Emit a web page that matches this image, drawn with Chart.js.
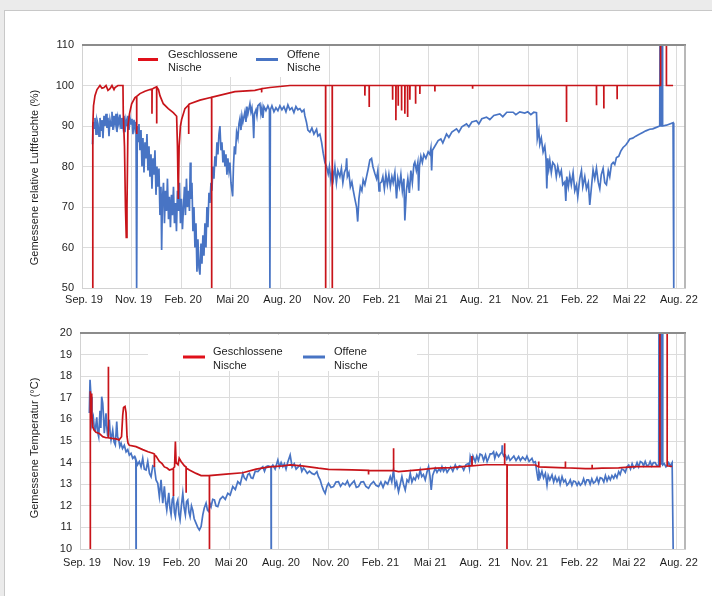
<!DOCTYPE html>
<html><head><meta charset="utf-8">
<script src="https://cdn.jsdelivr.net/npm/chart.js@4.4.1/dist/chart.umd.min.js"></script>
<style>
html,body{margin:0;padding:0;width:712px;height:596px;background:#ebebeb;overflow:hidden;}
#card{position:absolute;left:4px;top:10px;width:708px;height:586px;background:#fff;border-top:1px solid #c8c8c8;border-left:1px solid #c8c8c8;box-sizing:border-box;}
#c1{position:absolute;left:5px;top:10px;width:707px;height:300px;}
#c2{position:absolute;left:5px;top:310px;width:707px;height:286px;}
</style></head><body>
<div id="card"></div>
<canvas id="c1" width="707" height="300"></canvas>
<canvas id="c2" width="707" height="286"></canvas>
<script>
// x values: days since 1 Sep 2019; one axis tick every 91.25 days
const tickLabels = ['Sep. 19','Nov. 19','Feb. 20','Mai 20','Aug. 20','Nov. 20','Feb. 21','Mai 21','Aug.  21','Nov. 21','Feb. 22','Mai 22','Aug. 22'];
const daysPerTick = 91.25;
const seriesNames = ['Geschlossene Nische','Offene Nische'];

// Relative humidity (%), closed niche
const rhGeschlossen = [[19.5,50],[19.9,90],[21.2,95],[23.9,97.5],[27.6,99],[33.1,100],[36.8,99.3],[40.5,99.5],[44.2,100],[47.8,98.8],[51.5,99.2],[55.2,100],[58.9,99],[60.7,99.5],[66.2,100],[75.4,100],[76,93],[78.2,85],[80,70],[81.5,62.5],[82.8,70],[84.6,90],[87.4,93],[91.4,95.5],[97.5,97],[100.6,97.3],[100.6,88],[100.9,97.3],[106.7,98],[115.9,98.6],[125.1,99],[128.8,99.1],[128.8,93],[129.1,99.1],[132.5,99.4],[137.4,99.7],[137.4,90.6],[137.7,99.6],[140.8,99],[143.5,97.5],[149.6,95.5],[158.8,94.3],[168,93.3],[174.2,92.4],[175.7,85],[177.2,72],[178.8,85],[181.2,90],[183.4,91.6],[189.5,94.3],[196.3,95.2],[196.3,88],[196.6,95.3],[198.7,95.5],[217.1,96.4],[238.6,97.1],[238.6,50],[238.9,97.1],[241.6,97.2],[281.5,98.5],[318.3,98.8],[330.6,99.2],[330.6,98.3],[330.9,99.2],[345.9,99.5],[382.7,100],[448.4,100],[448.4,50],[448.7,100],[460.6,100],[460.6,50],[460.9,100],[520.7,100],[520.7,97.5],[521,100],[528.6,100],[528.6,94.7],[528.9,100],[571.7,100],[571.7,96.5],[572,100],[577.8,100],[577.8,91.4],[578.1,100],[582,100],[582,95],[582.3,100],[588.2,100],[588.2,93.8],[588.5,100],[594.3,100],[594.3,93],[594.6,100],[599.3,100],[599.3,92.2],[599.6,100],[603.5,100],[603.5,96.5],[603.8,100],[614,100],[614,95.5],[614.3,100],[621.9,100],[621.9,97.9],[622.2,100],[649.5,100],[649.5,98.5],[649.8,100],[718.9,100],[718.9,99.2],[719.2,100],[891.8,100],[891.8,91],[892.1,100],[947,100],[947,95.1],[947.3,100],[960.5,100],[960.5,94.3],[960.8,100],[985,100],[985,96.6],[985.3,100],[1065,100],[1065,130],[1075.8,130],[1075.8,100],[1088,100]];

// Relative humidity (%), open niche
const rhOffen = [[19.3,85.5],[20.6,91],[22.1,89.5],[23.9,92],[25.8,88],[27.6,91.5],[29.4,90.5],[31.3,87.5],[33.1,92],[35,89],[36.8,91.5],[38.6,87],[40.5,92.5],[42.3,90],[44.2,93],[46,89.5],[47.8,92],[49.7,87.5],[51.5,91.5],[53.4,90],[55.2,93.5],[57,89],[58.9,92.5],[60.7,90.5],[62.6,93],[64.4,88.5],[66.2,92],[68.1,90.5],[69.9,92.8],[71.8,89.5],[73.6,92],[75.4,90],[77.3,92.5],[79.1,88.5],[81,91.5],[82.8,90],[84.6,92.5],[86.5,89],[88.3,92],[90.2,90.5],[92,91.8],[93.8,88],[95.7,91.5],[97.5,89.5],[99.4,91],[100.6,50],[101.8,90],[103,86],[104.9,90.5],[106.7,84],[108.6,89],[110.4,80],[112.2,87],[114.1,78.5],[115.9,86],[117.8,82],[119.6,88],[121.4,79],[123.3,85],[125.1,77.5],[127,83],[128.8,74.5],[130.6,82],[132.5,78],[134.3,84],[136.2,73],[138,80],[139.8,75],[141.7,79.5],[143.5,68],[145.4,75],[146.6,59.4],[148.1,72],[150,76],[151.8,66],[153.6,74],[155.5,69],[157.3,77],[159.2,67],[161,72.5],[162.8,65],[164.7,73],[166.5,68],[168.4,75],[170.2,66],[172,71],[173.9,64],[175.7,74],[177.6,69],[179.4,76],[181.2,66],[183.1,72],[184.9,64.5],[186.8,70],[188.6,75],[190.4,68],[192.3,77],[194.1,70],[196,74],[197.8,69],[199.3,81],[200.6,72],[202.4,76],[204.2,64],[206.1,70],[207.9,60],[209.8,66],[211.6,54],[213.4,62],[215.3,55],[217.1,53.3],[219,61],[220.8,56],[222.6,63],[224.5,58],[226.3,66],[228.2,60],[230,70],[231.8,65],[233.7,73.5],[235.5,71],[237.4,76],[239.2,74],[241,80],[242.9,77],[244.7,82.5],[246.6,80],[248.4,86],[250.2,83],[252.1,88],[253.9,90],[255.8,84],[257.6,86],[259.4,81],[261.3,84],[263.1,80],[265,83],[266.8,78],[268.6,82],[270.5,79],[272.3,81],[274.2,76],[277.3,72.6],[278.8,80],[280.6,85],[282.4,83],[284.6,88.5],[287,87],[288.9,90.5],[290.7,91.8],[292.6,89],[294.4,92.5],[296.2,91],[299.9,93.5],[301.8,91],[303.6,94.8],[305.4,93],[309.1,95.5],[311,93.5],[312.8,94.5],[314.6,92],[316.1,87],[317.4,93],[320.2,94],[322,92.5],[323.8,95],[327.5,95.5],[329.4,93],[331.2,94.5],[333,92],[334.9,94.8],[338.6,93.8],[342.2,95],[345,94],[345.9,50],[346.8,94],[349.6,95],[353.3,93.5],[357,94.5],[360.6,93.8],[364.3,95],[368,94],[371.7,94.8],[375.4,93.5],[379,95.2],[382.7,94],[386.4,94.5],[390.1,93.3],[393.8,94.8],[397.4,94],[401.1,94.3],[404.8,93.5],[408.5,94],[410.3,92.5],[413.1,91],[415.8,89],[419.5,88.5],[423.2,89.5],[426.9,88],[431.8,89.2],[434.2,87.5],[437.9,88],[441,86],[444,83.3],[447.1,81],[450.2,80],[453.2,78.2],[455.4,80],[458.2,76.5],[460.9,79],[462.8,77],[465.5,80],[468.3,76],[471,79],[474.7,77.5],[477.5,79.5],[480.2,76],[483,78.5],[485.8,79.5],[487.2,82],[488.5,77.5],[491.3,78.5],[494,75],[496.8,76.2],[499.2,74.2],[502.3,72],[505.4,70],[507.5,66.4],[509.7,72],[512.4,75],[515.2,74],[517.6,76.7],[520.7,75.5],[523.8,77.5],[526.2,79],[529.9,81.6],[533,82],[535.4,80],[539.1,78.3],[542.2,77],[544.6,79],[546.8,74],[548.3,75.8],[551.4,76.2],[553.8,77.5],[556.6,74.5],[559.4,78],[562.1,75.5],[564.9,78],[567.6,75],[570.4,77.5],[572.8,76],[575.9,78.5],[579,72.1],[581.4,77],[584.2,75],[587,78],[589.7,74],[592.5,77],[594.3,66.7],[597.1,74],[599.8,77],[602.6,73.5],[605.4,79],[608.1,76],[610.9,80.5],[612.7,81.1],[615.5,79],[618.2,81],[619.7,74],[621.2,80],[623.8,82.5],[626.5,81],[629.3,83],[633,82],[637.2,83.6],[640.3,83],[642.2,84.5],[643.6,79],[645.1,84],[649.5,85],[655.6,86.4],[660.6,86.8],[664.2,85.8],[671,88],[675.3,87.2],[680.8,88.5],[689.4,89.3],[693.7,88.5],[699.2,89.8],[707.8,90.5],[712.1,89.8],[717.6,91],[726.2,91.3],[730.5,90.5],[736,91.8],[744.6,92.2],[750.7,91.6],[758.1,92.6],[769.1,93],[774.6,92.3],[782,93.4],[793.6,93.4],[798.6,92.8],[805.9,93.5],[815.1,93.2],[820.6,93.5],[826.2,92.8],[831.7,93.4],[836.6,93.3],[838.1,86.9],[840.9,89],[842.7,85.5],[845.5,87],[848.8,83.6],[851.9,85],[854.1,82],[855.6,74.6],[857.4,82],[859.3,79.5],[861.1,81.5],[863.9,78.5],[866.6,81],[870.3,80.3],[873.1,77.5],[875.8,80],[879.5,77.8],[882.3,79],[885,75.5],[888.7,76.2],[890.6,71.5],[892.4,77.5],[895.2,75],[897.9,77.8],[900.7,75.5],[904,78.5],[907.1,74],[910.2,75.4],[912.6,72.5],[916.3,77],[919.4,79],[921.8,75],[925.5,77.5],[928.6,74.5],[932,76],[934.7,70.5],[937.5,74.5],[940.8,79.2],[943.9,77],[947,79.6],[950.4,76],[953.1,74.5],[955.9,78],[959.2,79.5],[962.3,76],[965.4,75.5],[968.8,79],[971.5,77.5],[974.6,80.5],[977.9,81],[980.7,80.5],[983.8,82.2],[988,82.5],[991.8,83.8],[996,84.7],[1001,85.3],[1004.6,86],[1008.3,86.8],[1013.8,87],[1019.4,87.5],[1026.7,88],[1032.2,88.4],[1037.8,88.8],[1045.1,89.2],[1050.6,89.3],[1056.2,89.6],[1063.5,90],[1064.2,130],[1065,90],[1065.7,130],[1066.5,90],[1067.2,130],[1068,90],[1068.6,130],[1069,90],[1075.8,90.2],[1081.9,90.5],[1088,90.8],[1089.3,50]];

// Temperature (°C), closed niche
const tempGeschlossen = [[18.4,10],[18.4,17.3],[19.5,16.8],[20.2,17.2],[21.5,16.3],[23.3,15.65],[26,15.5],[29.4,15.4],[35.4,15.35],[41.7,15.2],[47.7,15.15],[52,15.15],[52,18.44],[52.3,15.15],[58.8,15.12],[66.1,15.1],[71.6,15.05],[76.2,15.2],[78.4,16.2],[79.9,16.55],[82.6,16.6],[84.5,16.3],[86.3,15.2],[88.1,14.9],[90.5,14.8],[102.8,14.74],[115.1,14.6],[124.8,14.5],[133.5,14.43],[136.4,14.4],[136.4,13.8],[136.7,14.35],[139.5,14.3],[145.6,14.05],[150.6,13.95],[154.8,13.8],[159.7,13.75],[164,13.66],[168.9,13.7],[171.3,13.7],[171.3,12.45],[171.6,13.75],[173.5,13.8],[175,14.97],[176.3,14.0],[179.9,13.9],[182,14.2],[185.4,14.05],[191.5,13.85],[194.6,13.8],[194.6,12.6],[194.9,13.75],[200.7,13.66],[213,13.5],[222.2,13.4],[237.4,13.4],[237.4,10],[237.7,13.4],[268.1,13.47],[298.7,13.53],[323.1,13.7],[347.6,13.8],[372.2,13.85],[385.6,13.89],[407,13.85],[437.5,13.74],[455.9,13.69],[498.8,13.66],[529.3,13.64],[529.3,13.45],[529.6,13.64],[572.3,13.63],[575.2,13.63],[575.2,14.66],[575.5,13.63],[584.4,13.58],[621.1,13.66],[651.8,13.74],[682.4,13.77],[716,13.85],[719.1,13.85],[719.1,14.3],[719.4,13.85],[743.6,13.9],[779,13.9],[779,14.9],[779.3,13.9],[783.4,13.9],[783.4,10],[783.7,13.9],[804.7,13.89],[835.4,13.89],[838,13.85],[841.5,13.8],[841.5,14.05],[841.8,13.8],[866,13.78],[890.5,13.76],[890.5,14.05],[890.8,13.76],[927.2,13.72],[939.5,13.72],[939.5,13.9],[939.8,13.72],[957.8,13.74],[988.3,13.76],[1019,13.81],[1061.8,13.81],[1064,13.81],[1064,25],[1077.3,25],[1077.3,13.85],[1086.4,13.82]];

// Temperature (°C), open niche
const tempOffen = [[17.1,16.3],[18.4,17.83],[20.2,17.05],[22,15.82],[24.4,16.1],[26.2,15.6],[28.1,15.5],[30.7,16.1],[32.5,15.4],[34.3,15.2],[36.7,16.4],[38.2,15.6],[39.8,17.05],[41.7,16.75],[43,16.2],[44.6,15.36],[47.7,16.28],[49.3,15.6],[50.9,15.2],[53.8,15.98],[55.5,15.3],[56.9,15.05],[60,15.5],[62.5,14.95],[64.8,14.82],[67.4,15.9],[69,15.2],[71.1,15.05],[73,14.75],[75.3,14.9],[78,14.65],[81.3,14.8],[84.5,14.5],[87.6,14.6],[90.5,14.35],[93.6,14.43],[96.7,14.2],[99.7,14.28],[102.5,14.1],[102.8,10],[103.1,14.1],[105.5,13.9],[108.9,14.05],[112,13.8],[115.1,14.2],[118,13.7],[121.2,13.66],[124.3,14.05],[127.5,13.5],[130.4,13.35],[133.5,13.85],[136.4,13.8],[139.5,13.2],[142.7,13.04],[145.6,12.43],[148.7,13.2],[151.8,12.12],[154.8,12.9],[157,12.2],[159.2,11.8],[162.9,12.6],[165,11.9],[167.1,11.6],[169.3,12.3],[171.3,12.43],[173.2,11.7],[175,11.5],[177.2,12.1],[179.4,12.27],[181.5,11.6],[183.6,11.35],[186,12.0],[188.6,12.58],[191,11.9],[193.3,11.58],[195.5,12.2],[197.7,12.27],[200,11.7],[202,11.5],[204.5,12.0],[206.9,11.8],[209.5,11.4],[213,11.19],[216,11.0],[219,10.88],[222.2,11.04],[225.3,11.58],[228,11.9],[231.3,12.12],[233.8,11.8],[236.3,11.73],[238.5,12.1],[240.5,11.96],[243.5,12.3],[246.6,12.27],[249.5,12.0],[252.8,11.96],[257,12.3],[262,12.43],[266.5,12.3],[271.2,12.58],[275.5,12.5],[280.3,12.89],[285,12.75],[289.5,13.12],[294,13.0],[298.7,13.5],[301.5,13.3],[304.8,13.2],[308,13.45],[310.8,13.5],[314,13.3],[317.1,13.27],[321.5,13.6],[326.3,13.58],[330.5,13.7],[335.4,13.81],[338.5,13.6],[341.5,13.81],[345,13.85],[350.4,13.8],[350.7,10],[351,13.8],[353.8,13.89],[358,13.7],[363,14.12],[366,13.8],[369,14.0],[372.2,13.81],[375,13.95],[378,13.7],[381,14.0],[385.6,14.35],[389.2,13.8],[393,13.95],[396.5,13.7],[400.8,13.81],[404,13.9],[407,13.6],[410,13.75],[413.1,13.66],[417,13.5],[421,13.6],[425.4,13.5],[430,13.45],[434.6,13.58],[437.5,13.35],[440.6,13.2],[443.5,12.95],[446.7,12.73],[449.8,12.58],[453,12.9],[455.9,13.04],[460.5,12.85],[465.1,12.89],[469.5,13.1],[474.2,13.12],[478,12.9],[482,13.05],[486.5,12.97],[490.5,13.15],[494.5,12.9],[498.8,13.04],[503,13.15],[507,12.85],[511,12.89],[515.5,13.1],[520.1,13.12],[524.5,12.9],[529.3,12.81],[533.5,13.0],[538.5,13.12],[543,12.95],[547.7,12.89],[552,13.1],[556,12.85],[560,13.12],[564.5,13.0],[569.2,13.35],[572,13.1],[575.2,13.66],[578.3,12.89],[581,13.1],[584.4,12.65],[587.5,13.0],[590.6,13.35],[593.5,13.0],[596.7,12.73],[600,13.2],[603,13.1],[605.9,13.5],[609,13.1],[612,13.3],[615.1,13.2],[618,13.45],[621,13.3],[624.2,13.66],[627,13.35],[630,13.45],[633.4,13.2],[636.5,13.55],[639.5,13.81],[642,13.4],[644.4,12.73],[647,13.4],[651.8,13.74],[655,13.55],[658.5,13.7],[661.5,13.6],[664.1,13.81],[667,13.6],[670.5,13.75],[673.5,13.55],[676.2,13.66],[680,13.8],[684,13.6],[688.5,13.89],[692,13.7],[696,13.85],[700.8,13.81],[704,13.65],[708,13.9],[712.9,13.97],[714.5,13.75],[716,14.27],[719,14.0],[721,14.3],[725.2,14.04],[728,14.3],[731,14.1],[734,14.4],[737.5,14.35],[740.5,14.1],[744,14.35],[747,14.05],[749.6,14.2],[752.5,14.4],[755.9,14.4],[758.8,14.5],[761,14.2],[764,14.45],[768,14.28],[771,14.4],[774.2,14.5],[774.6,14.8],[775,14.45],[777.5,14.3],[780.3,14.35],[783,14.15],[786,14.3],[789,14.1],[792.5,14.2],[796,14.3],[800,14.1],[804.7,14.28],[808,14.1],[812,14.25],[817,14.12],[820,14.3],[824,14.05],[829.2,14.2],[832,14.0],[835.4,14.04],[838.5,13.5],[840.5,13.2],[842,13.6],[844.6,13.35],[847.5,13.6],[850.5,13.3],[853.8,13.5],[856.8,12.96],[859,13.4],[862,13.2],[866,13.43],[869,13.1],[872,13.35],[875.2,13.12],[878.5,13.3],[881,13.0],[884.4,13.35],[887.5,13.1],[890.5,13.2],[893.5,12.95],[896.6,13.04],[899.5,13.2],[902.5,12.95],[905.5,13.15],[908.8,13.12],[912,12.95],[915,13.1],[918,12.95],[921.1,13.04],[924,13.25],[927,13.0],[930,13.2],[933.2,13.2],[936,13.0],[939,13.25],[942,13.05],[945.5,13.12],[948.5,13.3],[951.5,13.05],[954.5,13.3],[957.8,13.27],[961,13.1],[964,13.4],[967,13.15],[970,13.35],[973,13.2],[976,13.4],[979.2,13.27],[982,13.45],[985,13.3],[988.3,13.58],[991,13.45],[994,13.7],[997.5,13.66],[1000.5,13.55],[1003.5,13.8],[1006.7,13.89],[1010,13.7],[1013,13.95],[1016,13.75],[1019,13.81],[1022,14.0],[1025,13.8],[1028,14.05],[1031.3,14.0],[1034,13.85],[1037,14.05],[1040,13.85],[1043.4,13.89],[1046,14.05],[1049,13.85],[1052,14.0],[1055.3,14.0],[1058.5,13.85],[1061.8,13.89],[1062.5,25],[1063.5,13.9],[1064.5,25],[1065.5,13.9],[1066.5,25],[1067.5,13.9],[1068.5,25],[1069.2,13.89],[1072,13.95],[1075,13.8],[1077.3,13.85],[1080,14.0],[1083,13.85],[1086.4,14.0],[1088.3,10]];

const RED = '#c8141a';
const BLUE = '#4874c4';
const FONT = '"Liberation Sans", Arial, Helvetica, sans-serif';
const TEXT = '#1e1e1e';
Chart.defaults.font.family = FONT;
Chart.defaults.font.size = 11;
Chart.defaults.color = TEXT;

const nicheLegend = {
  id: 'nicheLegend',
  beforeDatasetsDraw(chart, args, o) {
    const ctx = chart.ctx;
    ctx.save();
    ctx.fillStyle = '#fff';
    ctx.fillRect(o.box[0], o.box[1], o.box[2], o.box[3]);
    chart.data.datasets.forEach((ds, i) => {
      const it = o.items[i];
      ctx.strokeStyle = i === 0 ? '#e0101a' : ds.borderColor;
      ctx.lineWidth = 3;
      ctx.beginPath();
      ctx.moveTo(it.x, o.sampleY);
      ctx.lineTo(it.x + it.w, o.sampleY);
      ctx.stroke();
      ctx.fillStyle = TEXT;
      ctx.font = '11px ' + FONT;
      ctx.textBaseline = 'middle';
      ctx.textAlign = 'left';
      ds.label.split(' ').forEach((word, k) => ctx.fillText(word, it.tx, o.textY + k * o.lineH));
    });
    ctx.restore();
  },
  afterDatasetsDraw(chart, args, o) {
    const a = chart.chartArea, ctx = chart.ctx;
    ctx.save();
    ctx.strokeStyle = '#8c8c8c';
    ctx.lineWidth = 2;
    ctx.beginPath(); ctx.moveTo(a.left, a.top); ctx.lineTo(a.right + 1, a.top); ctx.stroke();
    ctx.strokeStyle = '#a0a0a0';
    ctx.lineWidth = 1.5;
    ctx.beginPath(); ctx.moveTo(a.right, a.top); ctx.lineTo(a.right, a.bottom); ctx.stroke();
    // y-axis title
    ctx.translate(o.titleX, (a.top + a.bottom) / 2 + o.titleDy);
    ctx.rotate(-Math.PI / 2);
    ctx.fillStyle = TEXT;
    ctx.font = '11px ' + FONT;
    ctx.textAlign = 'center';
    ctx.textBaseline = 'middle';
    ctx.fillText(o.title, 0, 0);
    ctx.restore();
  }
};

function makeChart(id, cfg) {
  return new Chart(document.getElementById(id), {
    type: 'line',
    data: {
      datasets: [
        { label: seriesNames[0], data: cfg.closed, borderColor: RED, borderWidth: 1.7, pointRadius: 0, tension: 0, fill: false },
        { label: seriesNames[1], data: cfg.open, borderColor: BLUE, borderWidth: 1.7, pointRadius: 0, tension: 0, fill: false }
      ]
    },
    options: {
      responsive: false,
      animation: false,
      events: [],
      layout: { padding: { top: cfg.padTop, right: 27, left: 0, bottom: 0 } },
      plugins: { legend: { display: false }, tooltip: { enabled: false }, nicheLegend: cfg.legend },
      scales: {
        x: {
          type: 'linear', min: 0, max: 1110,
          afterBuildTicks: s => { s.ticks = tickLabels.map((_, i) => ({ value: i * daysPerTick })); },
          afterFit: s => { s.height = cfg.xHeight; },
          ticks: { autoSkip: false, maxRotation: 0, minRotation: 0, padding: cfg.xPad, labelOffset: 2,
                   callback: (v, i) => tickLabels[i] },
          grid: { color: '#dcdcdc', drawTicks: false },
          border: { color: '#d2d2d2' }
        },
        y: {
          min: cfg.yMin, max: cfg.yMax,
          afterFit: s => { s.width = cfg.yWidth; },
          ticks: { stepSize: cfg.yStep, padding: 8 },
          grid: { color: '#dcdcdc', drawTicks: false },
          border: { color: '#d2d2d2' },
          title: { display: false }
        }
      }
    },
    plugins: [nicheLegend]
  });
}

makeChart('c1', {
  closed: rhGeschlossen, open: rhOffen,
  yMin: 50, yMax: 110, yStep: 10, yWidth: 77, padTop: 35, xHeight: 22, xPad: 5,
  legend: { box: [131, 36, 190, 31], sampleY: 49.5, textY: 45, lineH: 13,
            items: [{ x: 133, w: 20, tx: 163 }, { x: 251, w: 22, tx: 282 }],
            title: 'Gemessene relative Luftfeuchte (%)', titleX: 30, titleDy: 11 }
});

makeChart('c2', {
  closed: tempGeschlossen, open: tempOffen,
  yMin: 10, yMax: 20, yStep: 1, yWidth: 75, padTop: 23, xHeight: 47, xPad: 7,
  legend: { box: [143, 25, 269, 36], sampleY: 47, textY: 42.3, lineH: 13.4,
            items: [{ x: 178, w: 22, tx: 208 }, { x: 298, w: 22, tx: 329 }],
            title: 'Gemessene Temperatur (°C)', titleX: 30, titleDy: 7 }
});
</script>
</body></html>
